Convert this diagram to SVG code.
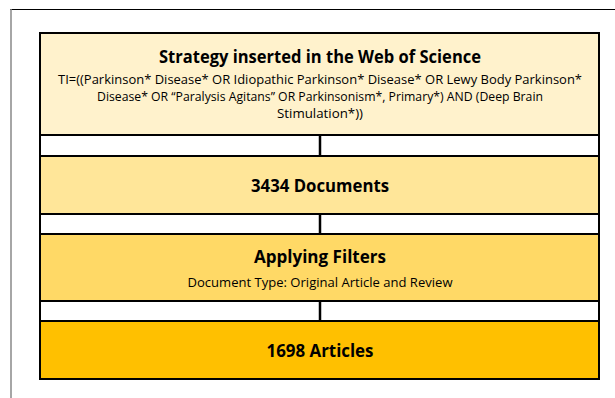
<svg xmlns="http://www.w3.org/2000/svg" width="615" height="398" viewBox="0 0 615 398">
<style>
.box{stroke:#000;stroke-width:2}
.gap{fill:#fff;stroke:#000;stroke-width:2}
.h{font-family:"Open Sans","Liberation Sans",sans-serif;font-weight:bold;font-size:17px;fill:#000;text-anchor:middle}
.t{font-family:"Open Sans","Liberation Sans",sans-serif;font-size:12.5px;fill:#000;text-anchor:middle}
.conn{stroke:#000;stroke-width:2.5}
</style>
<rect width="615" height="398" fill="#fff"/>
<line x1="10" y1="9.5" x2="615" y2="9.5" stroke="#000" stroke-width="1"/>
<line x1="11" y1="9" x2="11" y2="398" stroke="#888" stroke-width="1.5"/>
<g id="gaps">
<rect class="gap" x="40" y="135" width="559" height="21"/>
<rect class="gap" x="40" y="214" width="559" height="20"/>
<rect class="gap" x="40" y="301" width="559" height="20"/>
</g>
<g id="connectors">
<line class="conn" x1="320" y1="135" x2="320" y2="156"/>
<line class="conn" x1="320" y1="214" x2="320" y2="234"/>
<line class="conn" x1="320" y1="301" x2="320" y2="321"/>
</g>
<g id="n1">
<rect class="box" x="40" y="33" width="559" height="102" fill="#FFF2CC"/>
<text class="h" x="320" y="63" textLength="322" lengthAdjust="spacingAndGlyphs">Strategy inserted in the Web of Science</text>
<text class="t" x="320" y="84" textLength="524" lengthAdjust="spacingAndGlyphs">TI=((Parkinson* Disease* OR Idiopathic Parkinson* Disease* OR Lewy Body Parkinson*</text>
<text class="t" x="320" y="101" textLength="446" lengthAdjust="spacingAndGlyphs">Disease* OR “Paralysis Agitans” OR Parkinsonism*, Primary*) AND (Deep Brain</text>
<text class="t" x="320" y="118" textLength="86" lengthAdjust="spacingAndGlyphs">Stimulation*))</text>
</g>
<g id="n2">
<rect class="box" x="40" y="156" width="559" height="58" fill="#FFE699"/>
<text class="h" x="320" y="192" textLength="138" lengthAdjust="spacingAndGlyphs">3434 Documents</text>
</g>
<g id="n3">
<rect class="box" x="40" y="234" width="559" height="67" fill="#FFD966"/>
<text class="h" x="320" y="263" textLength="132" lengthAdjust="spacingAndGlyphs">Applying Filters</text>
<text class="t" x="320" y="287" textLength="265" lengthAdjust="spacingAndGlyphs">Document Type: Original Article and Review</text>
</g>
<g id="n4">
<rect class="box" x="40" y="321" width="559" height="58" fill="#FFC000"/>
<text class="h" x="320" y="357" textLength="107" lengthAdjust="spacingAndGlyphs">1698 Articles</text>
</g>
</svg>
